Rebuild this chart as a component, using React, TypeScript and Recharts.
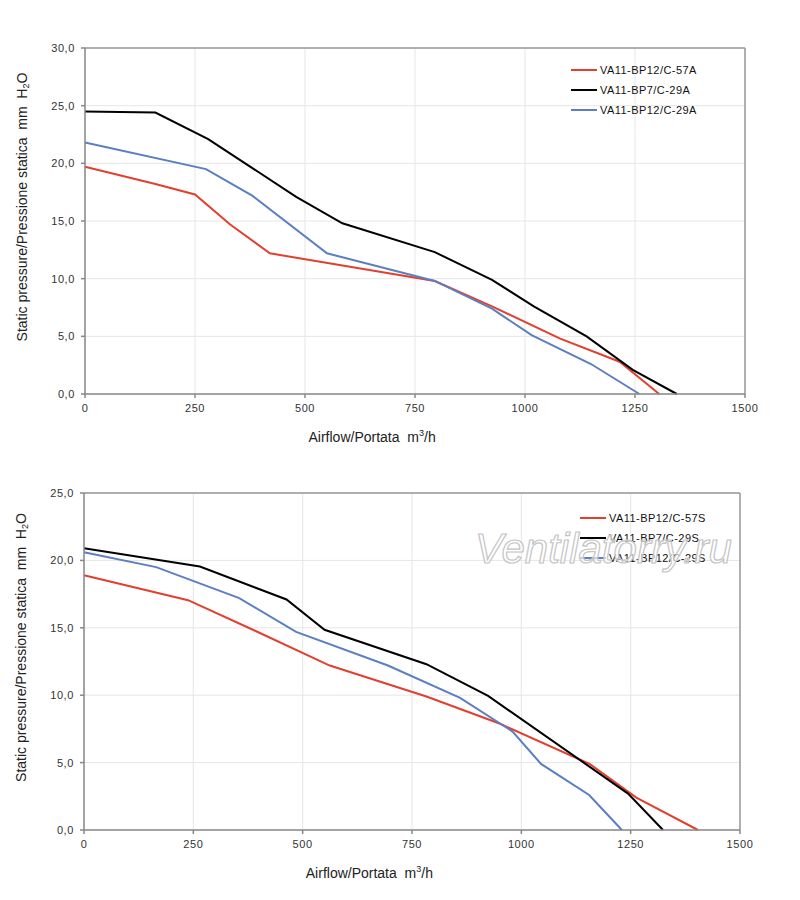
import React from "react"
import { CartesianGrid, Label, Line, LineChart, ReferenceLine, XAxis, YAxis } from "recharts"

// airflow (m3/h) / static pressure (mm H2O) pairs
const topRed: [number, number][] = [
    [0, 19.7], [160, 18.2], [250, 17.3], [330, 14.7], [420, 12.2],
    [795, 9.8], [925, 7.6], [1080, 4.8], [1215, 2.8], [1305, 0]
]
const topBlack: [number, number][] = [
    [0, 24.5], [160, 24.4], [280, 22.1], [480, 17.1], [585, 14.8], [795, 12.3],
    [925, 9.9], [1020, 7.6], [1140, 5.0], [1245, 2.1], [1345, 0]
]
const topBlue: [number, number][] = [
    [0, 21.8], [275, 19.5], [380, 17.2], [550, 12.2], [795, 9.8],
    [925, 7.4], [1015, 5.1], [1150, 2.6], [1260, 0]
]

const bottomRed: [number, number][] = [
    [0, 18.9], [238, 17.05], [390, 14.8], [562, 12.2], [783, 9.9],
    [950, 7.9], [1156, 4.9], [1263, 2.4], [1404, 0]
]
const bottomBlack: [number, number][] = [
    [0, 20.9], [265, 19.55], [463, 17.1], [550, 14.85], [783, 12.3],
    [924, 9.95], [1244, 2.7], [1324, 0]
]
const bottomBlue: [number, number][] = [
    [0, 20.6], [165, 19.5], [355, 17.2], [485, 14.7], [695, 12.2],
    [860, 9.8], [980, 7.3], [1045, 4.9], [1155, 2.6], [1230, 0]
]

const topNames = ["VA11-BP12/C-57A", "VA11-BP7/C-29A", "VA11-BP12/C-29A"]
const bottomNames = ["VA11-BP12/C-57S", "VA11-BP7/C-29S", "VA11-BP12/C-29S"]

const flowTicks = [0, 250, 500, 750, 1000, 1250, 1500]
const topPressureTicks = [0, 5, 10, 15, 20, 25, 30]
const bottomPressureTicks = [0, 5, 10, 15, 20, 25]

const COLORS = ["#e2402f", "#000000", "#5b7fc0"]
const FONT = "Arial, 'Liberation Sans', sans-serif"

const toPoints = (pairs: [number, number][]) => pairs.map(([q, p]) => ({ q, p }))
const fmt = (v: number) => v.toFixed(1).replace(".", ",")

const YTitle = (props: any) => {
    const vb = props.viewBox
    const cx = vb.x - 3
    const cy = vb.y + vb.height / 2 - 14
    return (
        <text x={cx} y={cy} transform={`rotate(-90 ${cx} ${cy})`} textAnchor="middle" xmlSpace="preserve"
            dominantBaseline="central" fontSize={14} fill="#222" fontFamily={FONT} style={{ whiteSpace: "pre" }}>
            {"Static pressure/Pressione statica  mm  H"}<tspan fontSize={9} dy={4}>2</tspan><tspan dy={-4}>O</tspan>
        </text>
    )
}

const XTitle = (props: any) => {
    const vb = props.viewBox
    return (
        <text x={vb.x + vb.width * 0.435} y={vb.y + 48} textAnchor="middle" xmlSpace="preserve"
            fontSize={14} fill="#222" fontFamily={FONT} style={{ whiteSpace: "pre" }}>
            {"Airflow/Portata  m"}<tspan fontSize={9} dy={-6}>3</tspan><tspan dy={6}>/h</tspan>
        </text>
    )
}

function FanChart({ series, names, yMax, yTicks, height, margin, legend, watermark }: {
    series: [number, number][][], names: string[], yMax: number, yTicks: number[], height: number,
    margin: { top: number, right: number, bottom: number, left: number },
    legend: { left: number, top: number }, watermark?: boolean
}) {
    return (
        <div style={{ position: "relative", width: 784, height }}>
            <LineChart width={784} height={height} margin={margin}>
                <CartesianGrid stroke="#e6e6e6" />
                <XAxis dataKey="q" type="number" domain={[0, 1500]} ticks={flowTicks} allowDuplicatedCategory={false}
                    height={30} stroke="#888" strokeWidth={1.5} tickSize={4} tickMargin={6}
                    tick={{ fill: "#333", fontSize: 11, fontFamily: FONT, letterSpacing: 0.6 }}
                    label={<Label content={<XTitle />} />} />
                <YAxis type="number" domain={[0, yMax]} ticks={yTicks} width={60} tickFormatter={fmt}
                    stroke="#888" strokeWidth={1.5} tickSize={4} tickMargin={6}
                    tick={{ fill: "#333", fontSize: 11, fontFamily: FONT, letterSpacing: 0.6 }}
                    label={<Label content={<YTitle />} />} />
                <ReferenceLine y={yMax} stroke="#999" strokeWidth={1.5} />
                <ReferenceLine x={1500} stroke="#999" strokeWidth={1.5} />
                {series.map((s, i) => (
                    <Line key={names[i]} data={toPoints(s)} dataKey="p" name={names[i]} type="linear"
                        stroke={COLORS[i]} strokeWidth={2} dot={false} isAnimationActive={false} />
                ))}
            </LineChart>

            <div style={{ position: "absolute", left: legend.left, top: legend.top, fontFamily: FONT, fontSize: 11, color: "#111", letterSpacing: 0.45 }}>
                {names.map((n, i) => (
                    <div key={n} style={{ display: "flex", alignItems: "center", height: 20, whiteSpace: "nowrap" }}>
                        <span style={{ display: "inline-block", width: 26, height: 2, background: COLORS[i], marginRight: 3 }} />
                        {n}
                    </div>
                ))}
            </div>

            {watermark && (
                <svg width={784} height={height} style={{ position: "absolute", left: 0, top: 0, pointerEvents: "none" }}>
                    <text x={467} y={105} fontSize={42} fontStyle="italic" fontFamily={FONT}
                        fill="#ffffff" fillOpacity={0.65} stroke="#c4c4c4" strokeWidth={1.2}>
                        Ventilatorry.ru
                    </text>
                </svg>
            )}
        </div>
    )
}

export default function App() {
    return (
        <div style={{ width: 784 }}>
            <FanChart series={[topRed, topBlack, topBlue]} names={topNames} yMax={30} yTicks={topPressureTicks}
                height={450} margin={{ top: 40, right: 47, bottom: 34, left: 17 }} legend={{ left: 563, top: 52 }} />
            <FanChart series={[bottomRed, bottomBlack, bottomBlue]} names={bottomNames} yMax={25} yTicks={bottomPressureTicks}
                height={440} margin={{ top: 35, right: 52, bottom: 38, left: 16 }} legend={{ left: 572, top: 50 }} watermark />
        </div>
    )
}
